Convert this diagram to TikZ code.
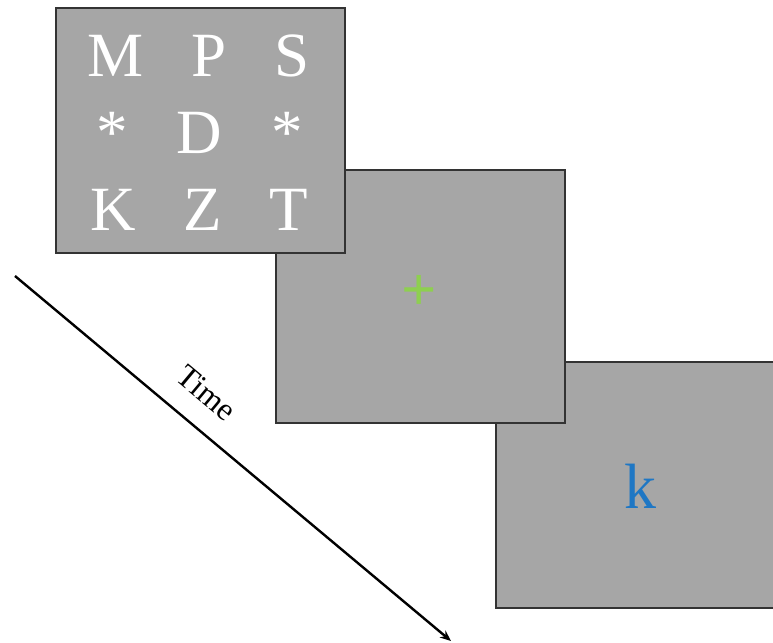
\documentclass[tikz,border=0pt]{standalone}
\usepackage{fontspec}
\setmainfont{Liberation Serif}
\usetikzlibrary{arrows.meta}
\definecolor{screengray}{HTML}{A6A6A6}
\definecolor{fixgreen}{HTML}{8ECF50}
\definecolor{probeblue}{HTML}{1F77C4}
\begin{document}
\begin{tikzpicture}[x=1pt,y=-1pt,
  screen/.style={draw=black!80, line width=1.3pt, fill=screengray, rectangle, inner sep=0pt},
  letter/.style={anchor=base, inner sep=0pt, text=white, font=\fontsize{63}{63}\selectfont},
  timearrow/.style={line width=2.4pt, -{Stealth[length=11pt,width=9pt]}}]
\useasboundingbox (0,0) rectangle (773,642);
% screens (back to front)
\node[screen, minimum width=278pt, minimum height=246pt] (s3) at (635,485) {};
\node[screen, minimum width=289pt, minimum height=253pt] (s2) at (420.5,296.5) {};
\node[screen, minimum width=289pt, minimum height=245pt] (s1) at (200.5,130.5) {};
% letters of first screen
\node[letter] (m) at (116,76) {M};
\node[letter] (p) at (209,76) {P};
\node[letter] (s) at (292,76) {S};
\node[letter] (a1) at (112,153) {*};
\node[letter] (d) at (199,153) {D};
\node[letter] (a2) at (287,153) {*};
\node[letter] (k) at (113,230) {K};
\node[letter] (z) at (203,230) {Z};
\node[letter] (t) at (289,230) {T};
% fixation cross
\node[inner sep=0pt, text=fixgreen, font=\bfseries\fontsize{62}{62}\selectfont] (fix) at (419,293) {+};
% probe
\node[anchor=base, inner sep=0pt, text=probeblue, font=\fontsize{64}{64}\selectfont] (probe) at (640,508) {k};
% time arrow
\coordinate (tstart) at (15,276);
\coordinate (tend) at (451,641);
\draw[timearrow] (tstart) -- (tend)
  node[pos=0.39, sloped, above=33pt, anchor=center, inner sep=0pt, font=\fontsize{32}{32}\selectfont] (time) {Time};
\end{tikzpicture}
\end{document}
